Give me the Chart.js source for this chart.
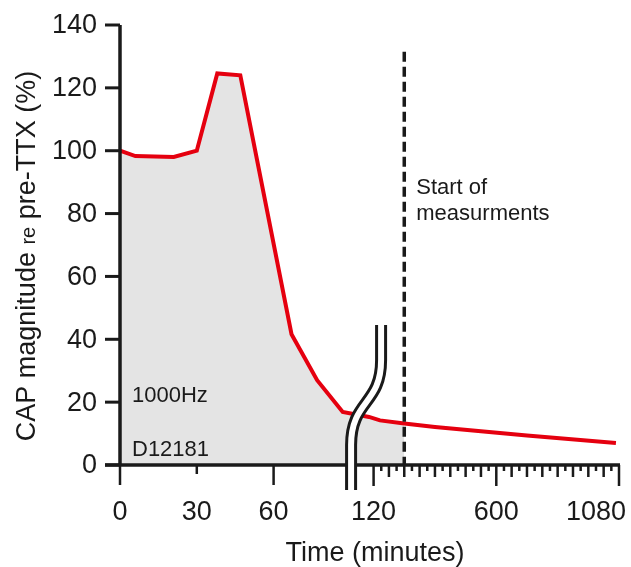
<!DOCTYPE html>
<html>
<head>
<meta charset="utf-8">
<script src="https://cdn.jsdelivr.net/npm/chart.js@4/dist/chart.umd.min.js"></script>
<style>
  html, body { margin: 0; padding: 0; background: #fff; }
  canvas { display: block; }
</style>
</head>
<body>
<canvas id="chartJSContainer" width="631" height="567"></canvas>
<script>
// time after TTX (minutes) and CAP magnitude (% of pre-TTX)
var times = [0, 6, 21, 30, 38, 47, 67, 77, 87, 106, 145, 240, 360, 720, 1068];
var capValues = [100, 98.3, 98, 100, 124.6, 124.0, 41.6, 27.0, 16.9, 15.3, 14.2, 13.2, 12.1, 9.4, 7.0];

var startOfMeasurements = 240;
var yTicks = [0, 20, 40, 60, 80, 100, 120, 140];
var xTickLabels = [0, 30, 60, 120, 600, 1080];
var xMinorStart = 120;
var xMinorStep = 30;

// broken x axis: 0-96 min stretched, 120-1080 compressed
var breakKnots = [0, 96, 120, 1080];
var breakFracs = [0, 0.4925, 0.5082, 1];

var FONT = '"Liberation Sans", Arial, Helvetica, sans-serif';
var INK = '#1a1a1a';

class BrokenScale extends Chart.LinearScale {
    getPixelForValue(value) {
        var i = 1;
        while (i < breakKnots.length - 1 && value > breakKnots[i]) i++;
        var v0 = breakKnots[i - 1], v1 = breakKnots[i];
        var f = breakFracs[i - 1] + (value - v0) / (v1 - v0) * (breakFracs[i] - breakFracs[i - 1]);
        return this.getPixelForDecimal(f);
    }
    getValueForPixel(pixel) {
        var f = this.getDecimalForPixel(pixel);
        var i = 1;
        while (i < breakFracs.length - 1 && f > breakFracs[i]) i++;
        var f0 = breakFracs[i - 1], f1 = breakFracs[i];
        return breakKnots[i - 1] + (f - f0) / (f1 - f0) * (breakKnots[i] - breakKnots[i - 1]);
    }
}
BrokenScale.id = 'broken';
BrokenScale.defaults = Chart.LinearScale.defaults;
Chart.register(BrokenScale);

var linePoints = [];
var shadedPoints = [];
for (var i = 0; i < times.length; i++) {
    linePoints.push({ x: times[i], y: capValues[i] });
    if (times[i] <= startOfMeasurements)
        shadedPoints.push({ x: times[i], y: capValues[i] });
}

// axes, ticks, labels, dashed marker, break symbol and notes
var decorPlugin = {
    id: 'decor',
    beforeDatasetsDraw: function (chart) {
        var ctx = chart.ctx;
        var xs = chart.scales.x, ys = chart.scales.y;
        var y0 = ys.getPixelForValue(0);
        var x0 = xs.getPixelForValue(0);
        ctx.save();
        ctx.strokeStyle = INK;
        ctx.fillStyle = INK;

        // y axis ticks + labels
        ctx.lineWidth = 3;
        ctx.font = '27px ' + FONT;
        ctx.textAlign = 'right';
        ctx.textBaseline = 'middle';
        yTicks.forEach(function (v) {
            var py = ys.getPixelForValue(v);
            ctx.beginPath();
            ctx.moveTo(x0 - 15, py);
            ctx.lineTo(x0, py);
            ctx.stroke();
            ctx.fillText(String(v), x0 - 23, py + 1);
        });

        // x ticks
        ctx.lineWidth = 2.5;
        var xt = [[0, 20], [30, 9], [60, 20]];
        for (var t = xMinorStart; t <= 1080; t += xMinorStep) {
            var len = 6;
            if (t % 60 === 0) len = 12;
            if (t === 120 || t === 600 || t === 1080) len = 21;
            xt.push([t, len]);
        }
        xt.forEach(function (p) {
            var px = xs.getPixelForValue(p[0]);
            ctx.beginPath();
            ctx.moveTo(px, y0);
            ctx.lineTo(px, y0 + p[1]);
            ctx.stroke();
        });

        // x labels
        ctx.textAlign = 'center';
        ctx.textBaseline = 'alphabetic';
        xTickLabels.forEach(function (v) {
            var px = xs.getPixelForValue(v);
            var w = ctx.measureText(String(v)).width;
            if (px + w / 2 > chart.width - 5) px = chart.width - 5 - w / 2;
            ctx.fillText(String(v), px, 520);
        });

        // x title
        ctx.fillText('Time (minutes)', 375, 561);

        // y title with small "re"
        var parts = [['CAP magnitude ', 27], ['re', 20], [' pre-TTX (%)', 27]];
        var total = 0;
        parts.forEach(function (p) {
            ctx.font = p[1] + 'px ' + FONT;
            p.push(ctx.measureText(p[0]).width);
            total += p[2];
        });
        ctx.translate(35, 256);
        ctx.rotate(-Math.PI / 2);
        ctx.textAlign = 'left';
        var cx = -total / 2;
        parts.forEach(function (p) {
            ctx.font = p[1] + 'px ' + FONT;
            ctx.fillText(p[0], cx, 0);
            cx += p[2];
        });
        ctx.restore();
    },
    afterDatasetsDraw: function (chart) {
        var ctx = chart.ctx;
        var xs = chart.scales.x, ys = chart.scales.y;
        var y0 = ys.getPixelForValue(0);
        var x0 = xs.getPixelForValue(0);
        var xEnd = xs.getPixelForValue(1080);
        ctx.save();
        ctx.strokeStyle = INK;
        ctx.fillStyle = INK;

        // axis lines
        ctx.lineWidth = 3.5;
        ctx.beginPath();
        ctx.moveTo(x0, ys.getPixelForValue(140));
        ctx.lineTo(x0, y0);
        ctx.stroke();
        ctx.beginPath();
        ctx.moveTo(x0 - 15, y0);
        ctx.lineTo(xEnd + 1, y0);
        ctx.stroke();

        // start of measurements
        var xm = xs.getPixelForValue(startOfMeasurements);
        ctx.lineWidth = 3.5;
        ctx.setLineDash([10, 5]);
        ctx.beginPath();
        ctx.moveTo(xm, ys.getPixelForValue(131.5));
        ctx.lineTo(xm, y0);
        ctx.stroke();
        ctx.setLineDash([]);

        // notes
        ctx.font = '22px ' + FONT;
        ctx.textAlign = 'left';
        ctx.textBaseline = 'alphabetic';
        ctx.fillText('Start of', xm + 12, 194);
        ctx.fillText('measurments', xm + 12, 220);
        ctx.fillText('1000Hz', x0 + 12, 402);
        ctx.fillText('D12181', x0 + 12, 456);

        // axis break symbol
        var bx = xs.getPixelForValue(120);
        var path = new Path2D();
        path.moveTo(bx + 7.5, y0 - 140);
        path.lineTo(bx + 7.5, y0 - 105);
        path.bezierCurveTo(bx + 7.5, y0 - 60, bx - 22.5, y0 - 65, bx - 22.5, y0 - 20);
        path.lineTo(bx - 22.5, y0 + 25);
        ctx.lineCap = 'butt';
        ctx.lineWidth = 12;
        ctx.strokeStyle = INK;
        ctx.stroke(path);
        ctx.lineWidth = 6;
        ctx.strokeStyle = '#ffffff';
        ctx.stroke(path);
        ctx.restore();
    }
};

var options = {
    type: 'line',
    data: {
        datasets: [
            {
                label: 'CAP',
                data: linePoints,
                borderColor: '#e5000f',
                borderWidth: 4,
                pointRadius: 0,
                tension: 0,
                fill: false,
                order: 1
            },
            {
                label: 'shade',
                data: shadedPoints,
                borderWidth: 0,
                pointRadius: 0,
                tension: 0,
                backgroundColor: '#e4e4e4',
                fill: 'origin',
                order: 2
            }
        ]
    },
    options: {
        responsive: false,
        animation: false,
        devicePixelRatio: 1,
        layout: { padding: { left: 120, right: 12, top: 25, bottom: 102 } },
        plugins: {
            legend: { display: false },
            tooltip: { enabled: false }
        },
        scales: {
            x: { type: 'broken', min: 0, max: 1080, display: false },
            y: { type: 'linear', min: 0, max: 140, display: false }
        }
    },
    plugins: [decorPlugin]
};

var ctx = document.getElementById('chartJSContainer').getContext('2d');
new Chart(ctx, options);
</script>
</body>
</html>
